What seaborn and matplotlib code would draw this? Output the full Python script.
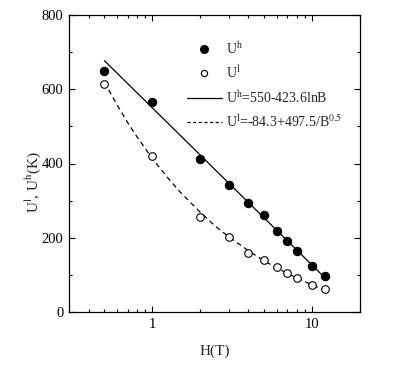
import matplotlib
matplotlib.use("Agg")
import matplotlib.pyplot as plt
import seaborn as sns
import pandas as pd
from matplotlib.lines import Line2D
from matplotlib.ticker import LogLocator, MultipleLocator, FixedLocator, FixedFormatter, NullFormatter

# measured points
field = [0.5, 1, 2, 3, 4, 5, 6, 7, 8, 10, 12]
u_high = [650, 566, 412, 342, 294, 260, 219, 192, 164, 125, 97]
u_low = [615, 420, 255, 202, 160, 139, 122, 105, 92, 74, 61]

# fit curves
fit_h_field = [0.5, 12]
fit_h_vals = [677, 93]
fit_l_field = [0.5, 0.6, 0.7, 0.8, 1, 1.25, 1.5, 2, 2.5, 3, 4, 5, 6, 7, 8, 10, 12]
fit_l_vals = [619, 558, 510, 472, 413, 361, 322, 268, 230, 203, 165, 138, 119, 104, 92, 73, 59]

sns.set_style("ticks")
plt.rcParams["font.family"] = ["Liberation Serif", "DejaVu Serif"]
plt.rcParams["mathtext.fontset"] = "stix"

fig = plt.figure(figsize=(4.15, 3.67), dpi=100)
ax = fig.add_axes([69 / 415, 1 - 312 / 367, (360 - 69) / 415, (312 - 15) / 367])

pts = pd.DataFrame({"H": field, "Uh": u_high, "Ul": u_low})
sns.lineplot(x=fit_h_field, y=fit_h_vals, ax=ax, color="black", lw=0.9)
sns.lineplot(x=fit_l_field, y=fit_l_vals, ax=ax, color="black", lw=0.9, linestyle=(0, (4, 3)))
sns.scatterplot(data=pts, x="H", y="Uh", ax=ax, color="black", s=36, edgecolor="black", linewidth=0.8, zorder=3)
sns.scatterplot(data=pts, x="H", y="Ul", ax=ax, facecolor="white", s=30, edgecolor="black", linewidth=0.8, zorder=3)

ax.set_xscale("log")
ax.set_xlim(0.3, 20)
ax.set_ylim(0, 800)
ax.xaxis.set_major_locator(FixedLocator([1, 10]))
ax.xaxis.set_major_formatter(FixedFormatter(["1", "10"]))
ax.xaxis.set_minor_locator(LogLocator(base=10, subs=range(2, 10)))
ax.xaxis.set_minor_formatter(NullFormatter())
ax.yaxis.set_major_locator(MultipleLocator(200))
ax.yaxis.set_minor_locator(MultipleLocator(100))
ax.tick_params(which="both", direction="in", top=True, right=True, labelsize=10.5, width=0.8, colors="black")
ax.tick_params(which="major", length=4.5, pad=4)
ax.tick_params(which="minor", length=2.5)
for sp in ax.spines.values():
    sp.set_linewidth(0.9)
    sp.set_color("black")

ax.set_xlabel("H(T)", fontsize=11, labelpad=10)
ax.set_ylabel(r"U$^{\rm l}$, U$^{\rm h}$(K)", fontsize=11)
ax.yaxis.set_label_coords(-0.09, 0.44)

handles = [
    Line2D([], [], ls="none", marker="o", color="black", markersize=5.5),
    Line2D([], [], ls="none", marker="o", mfc="white", mec="black", markersize=4.5, mew=0.8),
    Line2D([], [], color="black", lw=0.9),
    Line2D([], [], color="black", lw=0.9, ls=(0, (2.5, 2))),
]
labels = [
    r"U$^{\rm h}$",
    r"U$^{\rm l}$",
    r"U$^{\rm h}$=550-423.6lnB",
    r"U$^{\rm l}$=-84.3+497.5/B$^{0.5}$",
]
ax.legend(handles, labels, loc="upper left", bbox_to_anchor=(0.405, 0.915), frameon=False,
          borderpad=0, borderaxespad=0, fontsize=10, handlelength=2.5,
          handletextpad=0.3, labelspacing=0.57)

fig.savefig("out.png", dpi=100)
